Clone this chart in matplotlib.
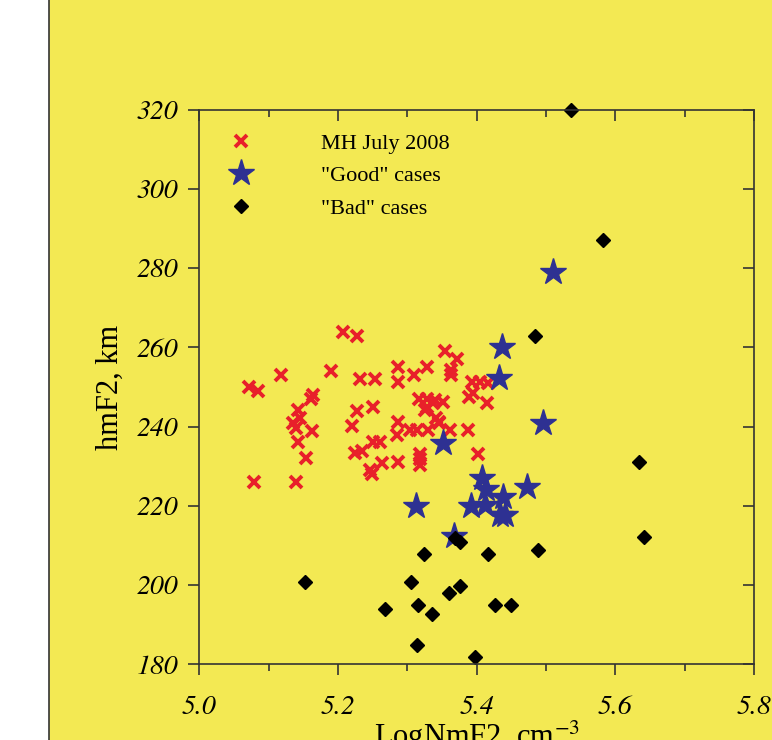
import matplotlib
matplotlib.use("Agg")
import matplotlib.pyplot as plt
from matplotlib.patches import Rectangle
from matplotlib.ticker import MultipleLocator

plt.rcParams['font.family'] = ['Liberation Serif', 'DejaVu Serif']
plt.rcParams['mathtext.fontset'] = 'stix'

# MH July 2008 (all cases)
mh_x = [5.207, 5.228, 5.118, 5.190, 5.232, 5.254, 5.287, 5.287, 5.071, 5.084,
        5.164, 5.161, 5.143, 5.145, 5.135, 5.140, 5.162, 5.142, 5.154, 5.079,
        5.139, 5.228, 5.250, 5.220, 5.287, 5.285, 5.251, 5.260, 5.225, 5.234,
        5.263, 5.246, 5.249, 5.287, 5.354, 5.371, 5.329, 5.310, 5.363, 5.363,
        5.393, 5.405, 5.416, 5.395, 5.389, 5.415, 5.317, 5.328, 5.340, 5.352,
        5.328, 5.337, 5.342, 5.345, 5.304, 5.314, 5.330, 5.362, 5.388, 5.402,
        5.318, 5.318, 5.318, 5.325, 5.345]
mh_y = [264.0, 262.9, 253.0, 254.1, 252.0, 252.0, 255.1, 251.3, 250.1, 249.0,
        248.0, 247.0, 244.2, 242.1, 240.8, 239.6, 239.0, 236.0, 232.0, 226.1,
        226.1, 244.0, 245.0, 240.1, 241.2, 237.9, 236.0, 236.0, 233.3, 233.9,
        230.9, 229.0, 228.0, 231.1, 259.1, 257.0, 255.0, 253.0, 254.3, 253.0,
        251.3, 251.3, 250.9, 248.4, 247.4, 246.0, 246.9, 246.9, 246.7, 246.3,
        245.0, 245.9, 242.1, 240.8, 239.1, 239.1, 239.1, 239.1, 239.1, 233.1,
        233.1, 231.7, 230.3, 244.2, 241.2]

# "Good" cases
good_x = [5.510, 5.437, 5.432, 5.496, 5.352, 5.312, 5.367, 5.392, 5.408, 5.413,
          5.412, 5.438, 5.433, 5.441, 5.472]
good_y = [279.1, 260.2, 252.2, 240.8, 235.8, 220.0, 212.4, 220.0, 227.1, 224.2,
          220.2, 222.3, 217.7, 217.7, 224.8]

# "Bad" cases
bad_x = [5.536, 5.582, 5.484, 5.634, 5.642, 5.152, 5.268, 5.306, 5.314, 5.316,
         5.324, 5.336, 5.360, 5.369, 5.376, 5.376, 5.398, 5.416, 5.426, 5.450,
         5.488]
bad_y = [320.0, 287.1, 262.9, 231.1, 212.1, 200.8, 193.9, 200.8, 184.9, 195.0,
         207.8, 192.8, 198.1, 212.0, 210.9, 199.8, 181.9, 207.8, 195.0, 195.0,
         208.9]

bg = '#f3e953'
ink = '#333333'
fig = plt.figure(figsize=(7.72, 7.40), dpi=100, facecolor='white')
# yellow panel with a dark left edge, kept behind the axes
fig.patches.append(Rectangle((49 / 772, 0), 1, 1, transform=fig.transFigure,
                             facecolor=bg, edgecolor='none', zorder=-10))
fig.lines.append(plt.Line2D([49 / 772, 49 / 772], [0, 1], transform=fig.transFigure,
                            color=ink, lw=1.2, zorder=-9))

ax = fig.add_axes([0.2582, 0.1023, 0.7185, 0.7495])
ax.set_facecolor('none')

ax.plot(mh_x, mh_y, 'x', color='#e8202a', ms=8.5, mew=2.8, ls='none', label='MH July 2008')
ax.plot(good_x, good_y, '*', color='#2e3192', ms=20, ls='none', label='"Good" cases', clip_on=False)
ax.plot(bad_x, bad_y, 'D', color='black', ms=7, ls='none', label='"Bad" cases', clip_on=False)

ax.set_xlim(5.0, 5.8)
ax.set_ylim(180, 320)
ax.xaxis.set_major_locator(MultipleLocator(0.2))
ax.xaxis.set_minor_locator(MultipleLocator(0.1))
ax.yaxis.set_major_locator(MultipleLocator(20))
ax.xaxis.set_major_formatter(plt.FuncFormatter(lambda v, p: f'{v:.1f}'))

for s in ax.spines.values():
    s.set_color(ink)
    s.set_linewidth(1.2)

ax.tick_params(which='major', direction='out', length=8, width=1.2, color=ink,
               labelsize=20)
ax.tick_params(which='minor', direction='out', length=5, width=1.2, color=ink)
ax.tick_params(axis='x', pad=14)
ax.tick_params(axis='y', pad=7)

top = ax.secondary_xaxis('top')
top.xaxis.set_major_locator(MultipleLocator(0.2))
top.xaxis.set_minor_locator(MultipleLocator(0.1))
top.tick_params(which='major', direction='in', length=8, width=1.2, color=ink, labeltop=False)
top.tick_params(which='minor', direction='in', length=5, width=1.2, color=ink)
top.spines['top'].set_visible(False)

right = ax.secondary_yaxis('right')
right.yaxis.set_major_locator(MultipleLocator(20))
right.tick_params(direction='in', length=8, width=1.2, color=ink, labelright=False)
right.spines['right'].set_visible(False)

ax.set_ylabel('hmF2, km', fontsize=22)
ax.yaxis.set_label_coords(-0.135, 0.5)
ax.set_xlabel('LogNmF2, cm$^{-3}$', fontsize=22)
ax.xaxis.set_label_coords(0.5, -0.098)
ax.xaxis.label.set_va('top')

ax.legend(loc='upper left', bbox_to_anchor=(0.0355, 0.958), frameon=False,
          fontsize=16, handlelength=2, handletextpad=2.6, labelspacing=0.54,
          borderpad=0, borderaxespad=0, numpoints=1)

# italic tick numbers: STIX ships with matplotlib and has a real italic face
fig.canvas.draw()
for lab in ax.get_xticklabels() + ax.get_yticklabels():
    lab.set_fontfamily('STIXGeneral')
    lab.set_fontstyle('italic')

fig.savefig('out.png', dpi=100, facecolor='white')
